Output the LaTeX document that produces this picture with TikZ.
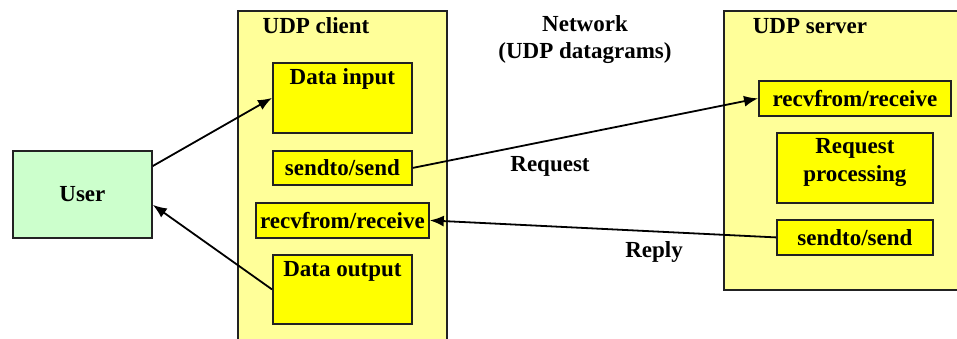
\documentclass[tikz,border=0pt]{standalone}
\usepackage{fontspec}
\setmainfont{Liberation Serif}
\usetikzlibrary{arrows.meta}
\definecolor{paleY}{HTML}{FFFF99}
\definecolor{brightY}{HTML}{FFFF00}
\definecolor{paleG}{HTML}{CCFFCC}
\definecolor{edgecol}{HTML}{222222}
\begin{document}
\begin{tikzpicture}[x=1pt,y=-1pt,
  every node/.style={font=\fontsize{23}{28}\selectfont\bfseries, inner sep=0pt},
  group/.style={draw=edgecol, fill=paleY, line width=1.8pt, anchor=north west},
  ybox/.style={draw=edgecol, fill=brightY, line width=1.8pt, anchor=north west, align=center},
  gbox/.style={draw=edgecol, fill=paleG, line width=1.8pt, anchor=north west},
  arr/.style={line width=1.8pt, -{Latex[length=14pt,width=11pt]}}]
\useasboundingbox (0,0) rectangle (957,338);
\clip (0,0) rectangle (957,338);
% groups
\node[group, minimum width=209pt, minimum height=345pt] (client) at (237,10) {};
\node[group, minimum width=250pt, minimum height=279pt] (server) at (723,10) {};
\node (ctitle) at (316,26) {UDP client};
\node (stitle) at (810,26) {UDP server};
% user
\node[gbox, minimum width=139pt, minimum height=87pt] (user) at (12,150) {User};
% client boxes
\node[ybox, minimum width=139pt, minimum height=70pt,
      label={[anchor=north, yshift=-6pt]north:Data input}] (din) at (272,62) {};
\node[ybox, minimum width=139pt, minimum height=34pt] (csend) at (272,150) {sendto/send};
\node[ybox, minimum width=173pt, minimum height=35pt] (crecv) at (255,202) {recvfrom/receive};
\node[ybox, minimum width=139pt, minimum height=69pt,
      label={[anchor=north, yshift=-7pt]north:Data output}] (dout) at (272,254) {};
% server boxes
\node[ybox, minimum width=192pt, minimum height=35pt] (srecv) at (758,80) {recvfrom/receive};
\node[ybox, minimum width=156pt, minimum height=70pt,
      label={[align=center, yshift=5pt]center:{Request\\processing}}] (sproc) at (776,132) {};
\node[ybox, minimum width=156pt, minimum height=35pt] (ssend) at (776,219) {sendto/send};
% network labels
\node[align=center] (net) at (585,40) {Network\\[-1pt](UDP datagrams)};
\node (req) at (550,166) {Request};
\node (rep) at (654,252) {Reply};
% arrows
\draw[arr] ([yshift=-16pt]user.north east) -- (din.west);
\draw[arr] (dout.west) -- ([yshift=34pt]user.south east);
\draw[arr] (csend.east) -- (srecv.west);
\draw[arr] (ssend.west) -- (crecv.east);
\end{tikzpicture}
\end{document}
